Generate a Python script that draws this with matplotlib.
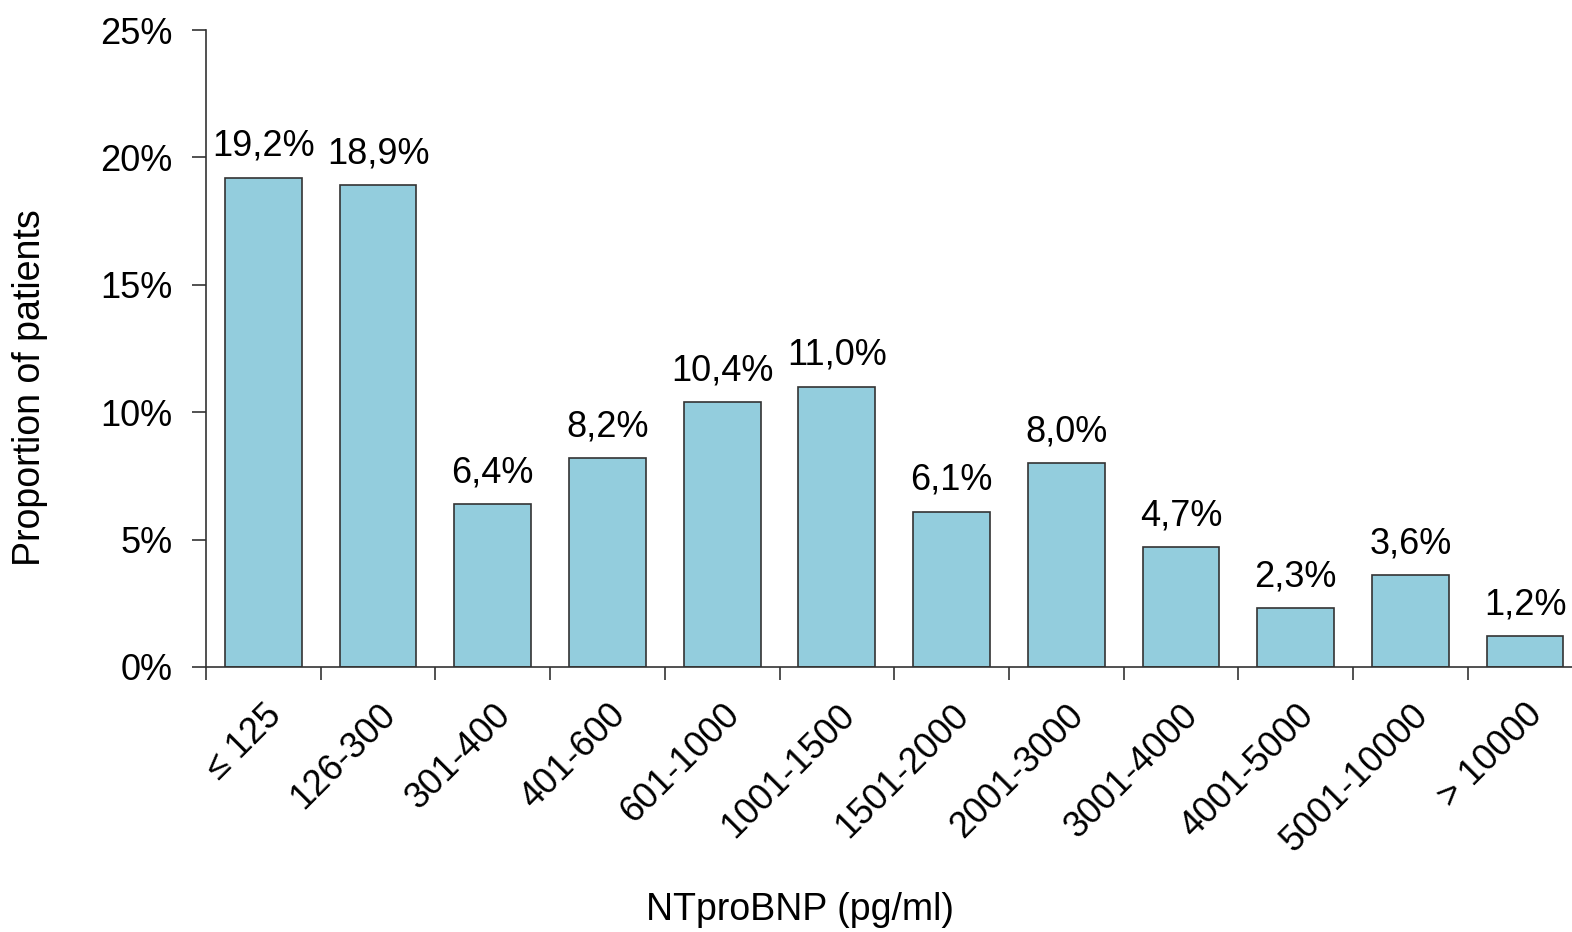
import numpy as np
import matplotlib.pyplot as plt
from matplotlib.ticker import FixedLocator

plt.rcParams['font.family'] = ['Liberation Sans', 'DejaVu Sans']

categories = ['≤ 125', '126-300', '301-400', '401-600', '601-1000', '1001-1500',
              '1501-2000', '2001-3000', '3001-4000', '4001-5000', '5001-10000', '> 10000']
values = [19.2, 18.9, 6.4, 8.2, 10.4, 11.0, 6.1, 8.0, 4.7, 2.3, 3.6, 1.2]
yticks = [0, 5, 10, 15, 20, 25]

fig = plt.figure(figsize=(15.72, 9.32), dpi=100)
ax = fig.add_axes([206 / 1572, 265 / 932, 1376.4 / 1572, 637 / 932])

x = np.arange(len(categories))
bars = ax.bar(x, values, width=0.67, color='#93CDDD', edgecolor='#333333', linewidth=1.2)

for xi, v in zip(x, values):
    ax.annotate(f'{v:.1f}%'.replace('.', ','), (xi, v), xytext=(0, 10),
                textcoords='offset points', ha='center', va='bottom', fontsize=26)

ax.set_xlim(-0.5, len(categories) - 0.5)
ax.set_ylim(0, 25)
ax.set_yticks(yticks)
ax.set_yticklabels([f'{t}%' for t in yticks], fontsize=26)

ax.set_xticks(x)
ax.set_xticklabels(categories, rotation=45, ha='right', va='top',
                   rotation_mode='anchor', fontsize=26)
ax.xaxis.set_minor_locator(FixedLocator(np.arange(-0.5, len(categories), 1.0)))
ax.tick_params(axis='x', which='major', length=0, pad=22)
ax.tick_params(axis='x', which='minor', length=9, width=1.2, color='#333333', direction='out')
ax.tick_params(axis='y', length=10, width=1.2, color='#333333', direction='out', pad=14)

for s in ['top', 'right']:
    ax.spines[s].set_visible(False)
for s in ['left', 'bottom']:
    ax.spines[s].set_linewidth(1.2)
    ax.spines[s].set_color('#333333')

fig.text(30 / 1572, (932 - 388) / 932, 'Proportion of patients', rotation=90,
         ha='center', va='center', fontsize=27)
fig.text(800 / 1572, (932 - 910) / 932, 'NTproBNP (pg/ml)', ha='center', va='center', fontsize=27)

fig.savefig('out.png', dpi=100)
